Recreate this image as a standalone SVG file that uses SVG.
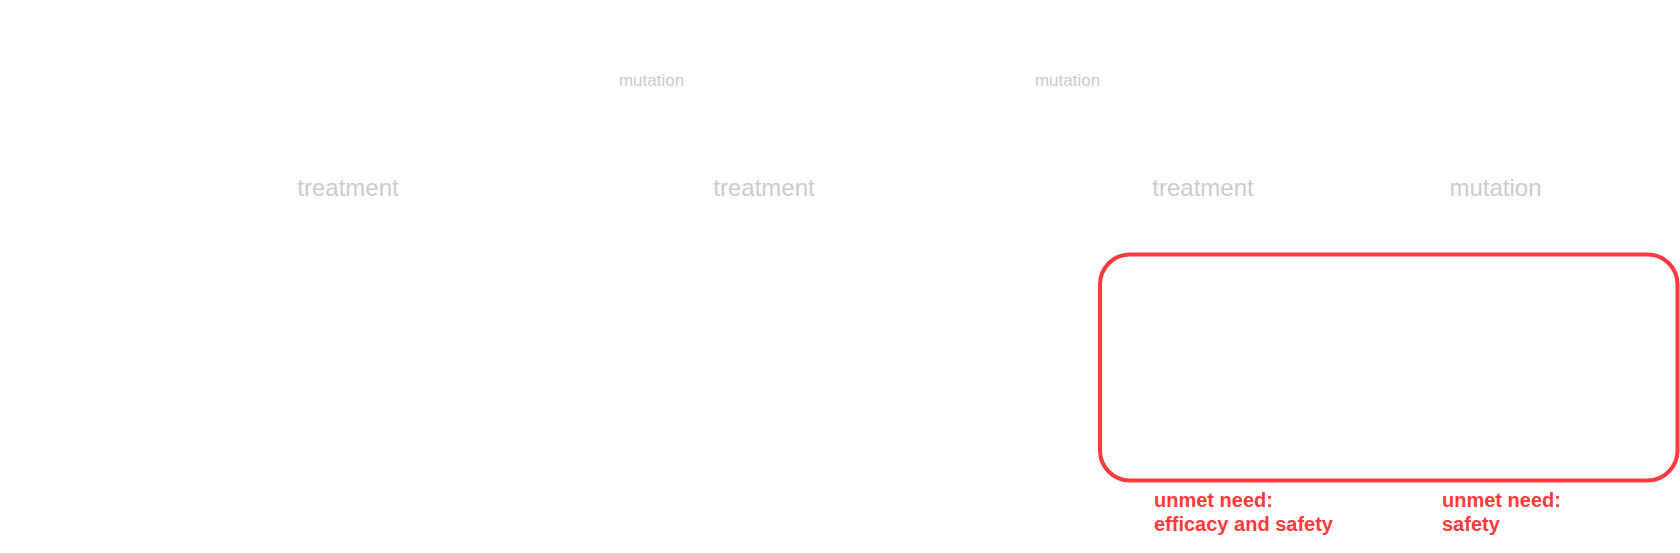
<svg xmlns="http://www.w3.org/2000/svg" width="1680" height="553" viewBox="0 0 1680 553">
<style>
.lbl{font-family:"Liberation Sans",Arial,sans-serif;fill:#cccccc;text-anchor:middle}
.sm{font-size:17px}
.lg{font-size:24px}
.need{font-family:"Liberation Sans",Arial,sans-serif;font-size:20px;font-weight:bold;fill:#ff3b3d}
</style>
<rect width="1680" height="553" fill="#ffffff"/>
<g id="labels">
<text class="lbl sm" x="651.5" y="86">mutation</text>
<text class="lbl sm" x="1067.5" y="86">mutation</text>
<text class="lbl lg" x="348" y="196">treatment</text>
<text class="lbl lg" x="764" y="196">treatment</text>
<text class="lbl lg" x="1203" y="196">treatment</text>
<text class="lbl lg" x="1495.5" y="196">mutation</text>
</g>
<g id="unmet-box">
<rect x="1100" y="254.5" width="577.5" height="226" rx="30" ry="30" fill="none" stroke="#ff3b3d" stroke-width="4"/>
</g>
<g id="need-1">
<text class="need" x="1154" y="507">unmet need:</text>
<text class="need" x="1154" y="531">efficacy and safety</text>
</g>
<g id="need-2">
<text class="need" x="1442" y="507">unmet need:</text>
<text class="need" x="1442" y="531">safety</text>
</g>
<g id="connectors"></g>
</svg>
